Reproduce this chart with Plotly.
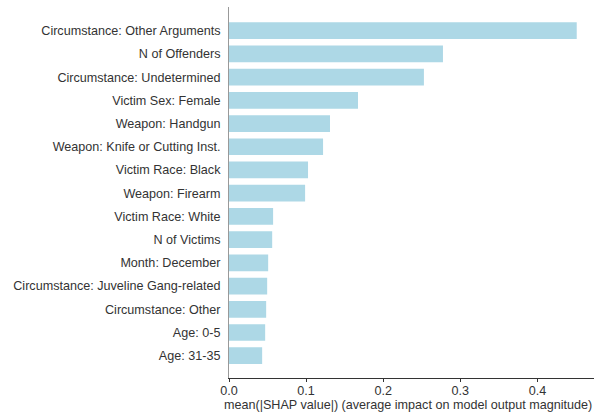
import plotly.graph_objects as go

features = [
    "Circumstance: Other Arguments",
    "N of Offenders",
    "Circumstance: Undetermined",
    "Victim Sex: Female",
    "Weapon: Handgun",
    "Weapon: Knife or Cutting Inst.",
    "Victim Race: Black",
    "Weapon: Firearm",
    "Victim Race: White",
    "N of Victims",
    "Month: December",
    "Circumstance: Juveline Gang-related",
    "Circumstance: Other",
    "Age: 0-5",
    "Age: 31-35",
]
mean_abs_shap = [0.451, 0.2775, 0.2528, 0.1673, 0.131, 0.122, 0.1025, 0.0987,
                 0.0572, 0.056, 0.0508, 0.0495, 0.0482, 0.0469, 0.043]
x_ticks = [0.0, 0.1, 0.2, 0.3, 0.4]
x_title = "mean(|SHAP value|) (average impact on model output magnitude)"

fig = go.Figure(go.Bar(
    x=mean_abs_shap,
    y=features,
    orientation="h",
    marker=dict(color="#ADD8E6", line=dict(width=0)),
    width=0.72,
    hoverinfo="skip",
))

font = dict(family="Liberation Sans, Arial, sans-serif", size=12.6, color="#333333")

fig.update_layout(
    width=597, height=414,
    margin=dict(l=228.5, r=3, t=7, b=36.3, autoexpand=False),
    plot_bgcolor="white", paper_bgcolor="white",
    showlegend=False,
    font=font,
    xaxis=dict(
        range=[0, 0.4734],
        tickvals=x_ticks,
        ticktext=[f"{v:.1f}" for v in x_ticks],
        showgrid=False, zeroline=False,
        showline=True, linecolor="#333333", linewidth=1,
        ticks="outside", ticklen=3, tickcolor="#333333", tickwidth=1,
        ticklabelstandoff=-2,
        tickfont=font, automargin=False,
    ),
    yaxis=dict(
        categoryorder="array",
        categoryarray=features[::-1],
        range=[-0.96, 15.02],
        showgrid=False, zeroline=False,
        showline=True, linecolor="#999999", linewidth=1,
        ticks="", ticklabelstandoff=5,
        tickfont=font, automargin=False,
    ),
    annotations=[dict(
        text=x_title, xref="paper", yref="paper", x=1, y=0,
        xanchor="right", yanchor="middle", yshift=-26.8, showarrow=False,
        font=font,
    )],
)

fig.write_html(
    "out.html",
    config={"displayModeBar": False},
    post_script="document.body.style.margin='0';document.body.style.padding='0';",
)
